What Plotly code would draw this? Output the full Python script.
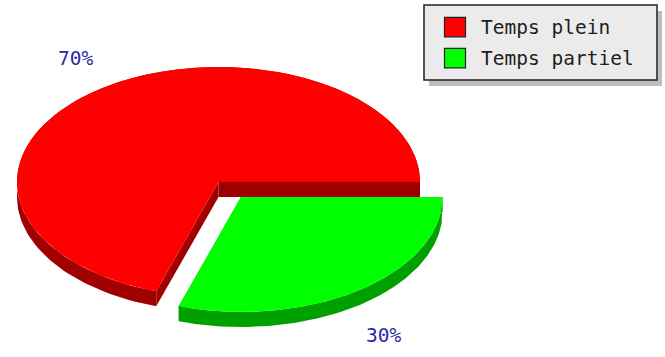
import numpy as np
import plotly.graph_objects as go

# Data
categories = ["Temps plein", "Temps partiel"]
values = [70, 30]
top_colors = ["#ff0000", "#00ff00"]
side_colors = ["#a00000", "#00a000"]

W, H = 665, 357

# 3D pie geometry (pixel space, y grows downward)
CX, CY = 218.5, 182.0      # pie centre
RX, RY = 201.5, 115.0      # ellipse radii of the top face
DEPTH = 15.0               # thickness of the pie
EXPLODE = [0.0, 38.3]      # explode distance per slice
EXPLODE_K = 0.484          # vertical squash of the explode offset
LAB_RX, LAB_RY = 243.0, 153.0

total = float(sum(values))
starts = np.cumsum([0] + values[:-1]) / total * 360.0
ends = np.cumsum(values) / total * 360.0


def arc(cx, cy, a0, a1, n=160):
    t = np.radians(np.linspace(a0, a1, n))
    return cx + RX * np.cos(t), cy - RY * np.sin(t)


def poly(fig, xs, ys, color):
    xs = list(xs) + [xs[0]]
    ys = list(ys) + [ys[0]]
    fig.add_trace(go.Scatter(
        x=xs, y=ys, mode="lines", fill="toself", fillcolor=color,
        line=dict(width=0, color=color), hoverinfo="skip", showlegend=False))


fig = go.Figure()
annotations = []

for i, (v, a0, a1) in enumerate(zip(values, starts, ends)):
    mid = np.radians((a0 + a1) / 2)
    cx = CX + EXPLODE[i] * np.cos(mid)
    cy = CY - EXPLODE[i] * EXPLODE_K * np.sin(mid)
    ax, ay = arc(cx, cy, a0, a1)

    # side walls: curved band plus the two radial cut faces
    poly(fig, np.concatenate([ax, ax[::-1]]),
         np.concatenate([ay, ay[::-1] + DEPTH]), side_colors[i])
    for px, py in [(ax[0], ay[0]), (ax[-1], ay[-1])]:
        poly(fig, [cx, px, px, cx], [cy, py, py + DEPTH, cy + DEPTH], side_colors[i])

    # top face
    poly(fig, np.concatenate([[cx], ax, [cx]]),
         np.concatenate([[cy], ay, [cy]]), top_colors[i])

    # percentage label outside the slice
    lx = cx + LAB_RX * np.cos(mid)
    ly = cy - LAB_RY * np.sin(mid) + (DEPTH if np.sin(mid) < 0 else 0)
    annotations.append(dict(
        x=lx, y=ly, xref="x", yref="y", showarrow=False,
        text=f"{round(v / total * 100)}%",
        font=dict(family="DejaVu Sans Mono", size=19.5, color="#2a2aa4"),
        xanchor="center", yanchor="middle"))

# Legend box with drop shadow
shapes = [
    dict(type="rect", x0=429, y0=11, x1=662, y1=86, xref="x", yref="y",
         fillcolor="#bdbdbd", line=dict(width=0), layer="above"),
    dict(type="rect", x0=424, y0=5, x1=657, y1=80, xref="x", yref="y",
         fillcolor="#ebebeb", line=dict(width=1.5, color="#222222"), layer="above"),
]
for i, name in enumerate(categories):
    y0 = 17.3 + i * 31
    shapes.append(dict(type="rect", x0=444.5, y0=y0, x1=465.5, y1=y0 + 19.5,
                       xref="x", yref="y", fillcolor=top_colors[i],
                       line=dict(width=1.2, color="#222222"), layer="above"))
    annotations.append(dict(
        x=479, y=y0 + 10, xref="x", yref="y", showarrow=False, text=name,
        font=dict(family="DejaVu Sans Mono", size=19.5, color="#1e1e1e"),
        xanchor="left", yanchor="middle"))

fig.update_layout(
    width=W, height=H,
    margin=dict(l=0, r=0, t=0, b=0),
    paper_bgcolor="white", plot_bgcolor="white",
    xaxis=dict(range=[0, W], visible=False, fixedrange=True),
    yaxis=dict(range=[H, 0], visible=False, fixedrange=True),
    shapes=shapes, annotations=annotations, showlegend=False,
)

fig.write_html("out.html")
